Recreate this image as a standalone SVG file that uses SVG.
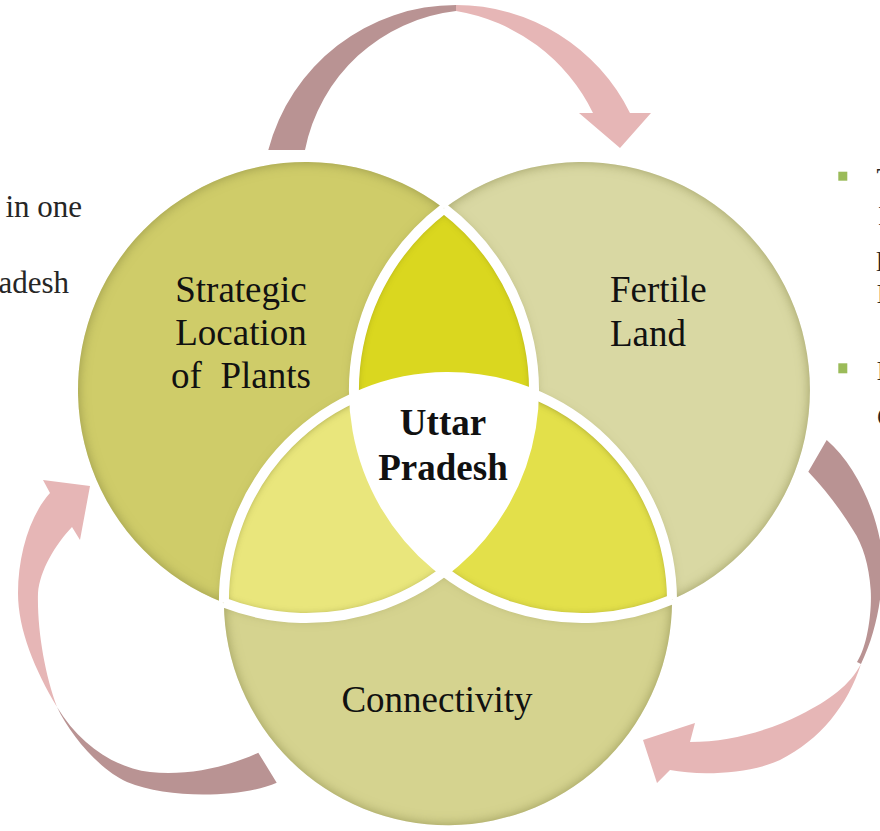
<svg xmlns="http://www.w3.org/2000/svg" width="880" height="831" viewBox="0 0 880 831">
  <defs>
    <style>
      .dark { fill: #b99393; }
      .light { fill: #e6b6b6; }
      .gap { fill: none; stroke: #ffffff; stroke-width: 10; }
      .bullet { fill: #9bbb59; }
    </style>
    <filter id="softIn" x="-10%" y="-10%" width="120%" height="120%" color-interpolation-filters="sRGB">
      <feComponentTransfer in="SourceAlpha" result="inv"><feFuncA type="table" tableValues="1 0"/></feComponentTransfer>
      <feGaussianBlur in="inv" stdDeviation="6" result="blur"/>
      <feFlood flood-color="#6b6b30" flood-opacity="0.55" result="col"/>
      <feComposite in="col" in2="blur" operator="in" result="sh"/>
      <feComposite in="sh" in2="SourceAlpha" operator="in" result="ish"/>
      <feMerge><feMergeNode in="SourceGraphic"/><feMergeNode in="ish"/></feMerge>
    </filter>
    <filter id="deepIn" x="-10%" y="-10%" width="120%" height="120%" color-interpolation-filters="sRGB">
      <feComponentTransfer in="SourceAlpha" result="inv"><feFuncA type="table" tableValues="1 0"/></feComponentTransfer>
      <feGaussianBlur in="inv" stdDeviation="5" result="blur"/>
      <feFlood flood-color="#4a4a0c" flood-opacity="0.9" result="col"/>
      <feComposite in="col" in2="blur" operator="in" result="sh"/>
      <feComposite in="sh" in2="SourceAlpha" operator="in" result="ish"/>
      <feMerge><feMergeNode in="SourceGraphic"/><feMergeNode in="ish"/></feMerge>
    </filter>
  </defs>

  <rect width="880" height="831" fill="#ffffff"/>

  <!-- connectors: curved cycle arrows -->
  <g id="connectors">
    <g id="arrow-top">
      <path class="dark" d="M268.3,150 A194,194 0 0,1 456,5 L456,11 A174,174 0 0,0 305,150 Z"/>
      <path class="light" d="M456,5 A194,194 0 0,1 630,113 L651,113 L620,148 L579,113 L593,113 A186,186 0 0,0 456,11 Z"/>
    </g>
    <g id="arrow-right">
      <path class="dark" d="M826.7,440 C852,462 872,500 880,540 C886,575 880,625 861,664 L857,662 C868,645 872,610 870.7,590 C869,565 863,545 853,530 C842,512 826,490 808.3,471.7 Z"/>
      <path class="light" d="M861,664 C848,705 820,740 780,760 C750,774 700,776 670,770 L657,783 L643,740 L695,723 L690,742 C730,742 770,730 800,715 C830,700 850,685 861,664 Z"/>
    </g>
    <g id="arrow-left">
      <path class="dark" d="M276.7,782.7 C245,797 170,800 127,782 C100,770 70,735 57,707 C80,745 115,768 150,772 C185,776 225,768 258.3,752.7 Z"/>
      <path class="light" d="M57,707 C35,670 18,630 18,593 C18,555 30,515 50,493 L43,480 L90,486 L80,540 L72,527 C55,545 40,570 38,593 C37,630 45,675 57,707 Z"/>
    </g>
  </g>

  <g font-family="'Liberation Serif', 'DejaVu Serif', serif" fill="#111111">
    <!-- outer parts of the three circles -->
    <g id="node-strategic">
      <path fill="#cfcc69" filter="url(#softIn)" d="M444,208.5 A228,228 0 1,0 223.9,602.7 A224,224 0 0,1 354.2,399.5 A228,228 0 0,1 444,208.5 Z"/>
      <text x="241" y="302" font-size="37" text-anchor="middle">Strategic</text>
      <text x="241" y="345" font-size="37" text-anchor="middle">Location</text>
      <text x="241" y="388" font-size="37" text-anchor="middle" xml:space="preserve">of  Plants</text>
    </g>
    <g id="node-fertile">
      <path fill="#d9d8a3" filter="url(#softIn)" d="M444,208.5 A228,228 0 1,1 672,599.5 A224,224 0 0,0 533.9,396.1 A228,228 0 0,0 444,208.5 Z"/>
      <text x="610" y="302" font-size="37">Fertile</text>
      <text x="610" y="346" font-size="37">Land</text>
    </g>
    <g id="node-connectivity">
      <path fill="#d5d38f" filter="url(#softIn)" d="M223.9,602.7 A224,224 0 1,0 672,599.5 A228,228 0 0,1 444,571.5 A228,228 0 0,1 223.9,602.7 Z"/>
      <text x="437" y="712" font-size="37" text-anchor="middle">Connectivity</text>
    </g>

    <!-- overlap lenses -->
    <g id="overlaps">
      <path fill="#dad71f" filter="url(#deepIn)" d="M444,208.5 A228,228 0 0,0 444,571.5 A228,228 0 0,0 444,208.5 Z"/>
      <path fill="#e9e67c" filter="url(#deepIn)" d="M223.9,602.7 A224,224 0 0,1 533.9,396.1 A228,228 0 0,1 223.9,602.7 Z"/>
      <path fill="#e3e04a" filter="url(#deepIn)" d="M354.2,399.5 A224,224 0 0,1 672,599.5 A228,228 0 0,1 354.2,399.5 Z"/>
    </g>

    <!-- white separators -->
    <g id="separators">
      <path class="gap" d="M444,208.5 A228,228 0 0,0 672,599.5"/>
      <path class="gap" d="M444,208.5 A228,228 0 0,1 223.9,602.7"/>
      <path class="gap" d="M223.9,602.7 A224,224 0 0,1 672,599.5"/>
    </g>

    <g id="node-center">
      <path fill="#ffffff" d="M354.2,399.5 A224,224 0 0,1 533.9,396.1 A228,228 0 0,1 444,571.5 A228,228 0 0,1 354.2,399.5 Z"/>
      <text x="443" y="435" font-size="37" font-weight="bold" text-anchor="middle">Uttar</text>
      <text x="443" y="480" font-size="37" font-weight="bold" text-anchor="middle">Pradesh</text>
    </g>

    <!-- text cut by the picture's edge -->
    <g id="side-left" fill="#262626">
      <text x="82" y="217" font-size="31" text-anchor="end">in one</text>
      <text x="69" y="293" font-size="31" text-anchor="end">adesh</text>
    </g>
    <g id="side-right" fill="#262626">
      <rect class="bullet" x="838.3" y="171.7" width="9" height="9"/>
      <rect class="bullet" x="838.3" y="363.3" width="9" height="10"/>
      <text x="876.5" y="187" font-size="28">T</text>
      <text x="878" y="225" font-size="28">I</text>
      <text x="876" y="271" font-size="28">l</text>
      <text x="876.5" y="303" font-size="28">I</text>
      <text x="876.5" y="380" font-size="28">I</text>
      <text x="877" y="426" font-size="28">C</text>
    </g>
  </g>
</svg>
